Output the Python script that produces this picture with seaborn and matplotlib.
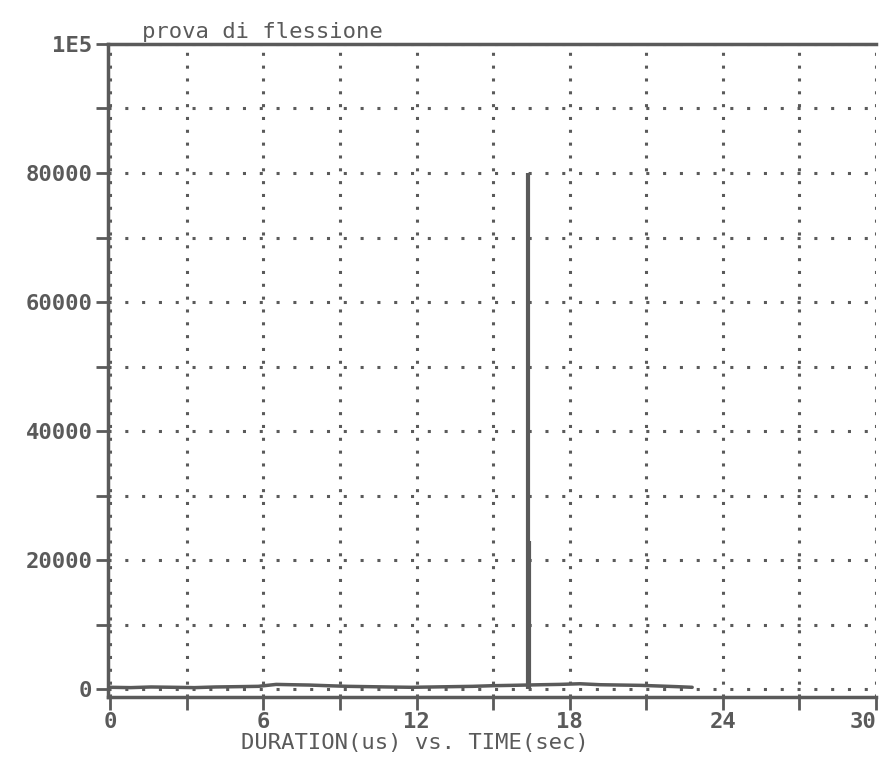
import matplotlib
matplotlib.use("Agg")
import matplotlib.pyplot as plt
import seaborn as sns
import pandas as pd

# small hits along the bottom: time (sec) and duration (us)
base_time = [0.0, 0.8, 1.6, 2.5, 3.3, 4.1, 5.0, 5.8, 6.5, 7.1, 7.8, 8.5, 9.3,
             10.1, 10.9, 11.8, 12.6, 13.4, 14.2, 15.0, 15.7, 16.3, 16.9, 17.6,
             18.4, 19.2, 20.0, 20.8, 21.5, 22.2, 22.8]
base_dur = [300, 250, 350, 300, 250, 350, 400, 450, 750, 700, 650, 550, 450,
            400, 350, 300, 350, 400, 450, 550, 600, 650, 700, 750,
            850, 700, 650, 600, 500, 400, 300]

# the two big hits
spike_time = [16.38, 16.42]
spike_dur = [80000, 23000]

title = "prova di flessione"
x_label = "DURATION(us) vs. TIME(sec)"
x_ticks = [0, 3, 6, 9, 12, 15, 18, 21, 24, 27, 30]
x_labels = ["0", "", "6", "", "12", "", "18", "", "24", "", "30"]
y_ticks = [0, 10000, 20000, 30000, 40000, 50000, 60000, 70000, 80000, 90000, 100000]
y_labels = ["0", "", "20000", "", "40000", "", "60000", "", "80000", "", "1E5"]

ink = "#5a5a5a"

sns.set_theme(style="white")
plt.rcParams["font.family"] = ["DejaVu Sans Mono", "DejaVu Sans"]

fig = plt.figure(figsize=(8.83, 7.71), dpi=100)
ax = fig.add_axes([0.122, 0.096, 0.870, 0.847])

base = pd.DataFrame({"time": base_time, "duration": base_dur})
sns.lineplot(data=base, x="time", y="duration", ax=ax, color=ink, lw=2.5)
ax.vlines(spike_time, 0, spike_dur, color=ink, lw=3)

ax.set_xlim(-0.1, 30)
ax.set_ylim(-1200, 100000)

ax.set_xticks(x_ticks, x_labels)
ax.set_yticks(y_ticks, y_labels)

# dotted grid
for x in x_ticks:
    ax.axvline(x, color=ink, lw=2.2, linestyle=(0, (1, 3.2)), zorder=0)
for y in y_ticks:
    ax.axhline(y, color=ink, lw=2.2, linestyle=(0, (1, 4.5)), zorder=0)

for side in ["left", "bottom", "top"]:
    ax.spines[side].set_visible(True)
    ax.spines[side].set_color(ink)
    ax.spines[side].set_linewidth(2.5)
ax.spines["right"].set_visible(False)

ax.tick_params(axis="both", direction="out", length=9, width=2, color=ink,
               labelcolor=ink, labelsize=16, pad=2, bottom=True, left=True)
ax.get_xticklabels()[-1].set_horizontalalignment("right")
for lab in ax.get_xticklabels() + ax.get_yticklabels():
    lab.set_fontweight("bold")
    lab.set_fontstretch("condensed")

ax.set_xlabel(x_label, color=ink, fontsize=16)
ax.xaxis.set_label_coords(0.40, -0.055)
ax.set_ylabel("")
ax.text(0.045, 1.003, title, transform=ax.transAxes, color=ink, fontsize=16,
        ha="left", va="bottom")

fig.savefig("out.png", dpi=100, facecolor="white")
